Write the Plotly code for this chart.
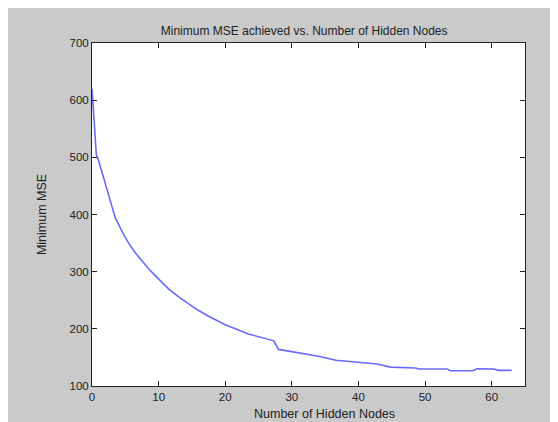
import plotly.graph_objects as go

# Data
hidden_nodes = [0, 0.25, 0.4, 0.65, 1.0, 1.8, 2.5, 3.5, 4.8, 5.5, 6.5, 7.5, 8.5, 9.5, 11.5,
                13, 16, 17.5, 20, 23.5, 26.8, 27.3, 28, 31, 34, 36.6, 39.6, 42.8,
                44.8, 48.6, 49, 53.3, 53.8, 57.1, 57.8, 60.3, 61.1, 63]
min_mse = [620, 575, 530, 505, 494, 462, 430, 394, 364, 350, 333, 318, 305, 293, 270,
           256, 232, 222, 207, 191, 181, 179, 164, 158, 152, 145, 142, 138.5,
           133, 131.5, 129.7, 129.7, 126.8, 126.8, 130.3, 129.7, 127.4, 127.4]

x_ticks = [0, 10, 20, 30, 40, 50, 60]
y_ticks = [100, 200, 300, 400, 500, 600, 700]

title_text = "Minimum MSE achieved vs. Number of Hidden Nodes"
x_title = "Number of Hidden Nodes"
y_title = "Minimum MSE"

FONT = "Liberation Sans, Arial"
TXT = "#222222"

fig = go.Figure()
fig.add_trace(go.Scatter(x=hidden_nodes, y=min_mse, mode="lines",
                         line=dict(color="rgb(105,105,255)", width=1.6),
                         showlegend=False))

axis_common = dict(showline=True, linecolor="#222222", linewidth=1, mirror="ticks",
                   ticks="inside", ticklen=5, tickcolor="#222222", showgrid=False,
                   zeroline=False, tickfont=dict(family=FONT, size=11.5, color=TXT))

fig.update_layout(
    width=558, height=422,
    margin=dict(l=84, r=41, t=35, b=44),
    paper_bgcolor="#cacaca", plot_bgcolor="white",
    title=dict(text=title_text, xref="paper", x=0.49, xanchor="center",
               yref="container", y=0.947, yanchor="middle",
               font=dict(family=FONT, size=12, color=TXT)),
    xaxis=dict(range=[0, 65], tickvals=x_ticks, **axis_common),
    yaxis=dict(range=[100, 700], tickvals=y_ticks,
               title=dict(text=y_title, standoff=20,
                          font=dict(family=FONT, size=12.5, color=TXT)),
               **axis_common),
    annotations=[dict(text=x_title, xref="paper", yref="paper", x=0.536, y=-0.083,
                      xanchor="center", yanchor="middle", showarrow=False,
                      font=dict(family=FONT, size=12.5, color=TXT))],
)

fig.write_html("out.html")
